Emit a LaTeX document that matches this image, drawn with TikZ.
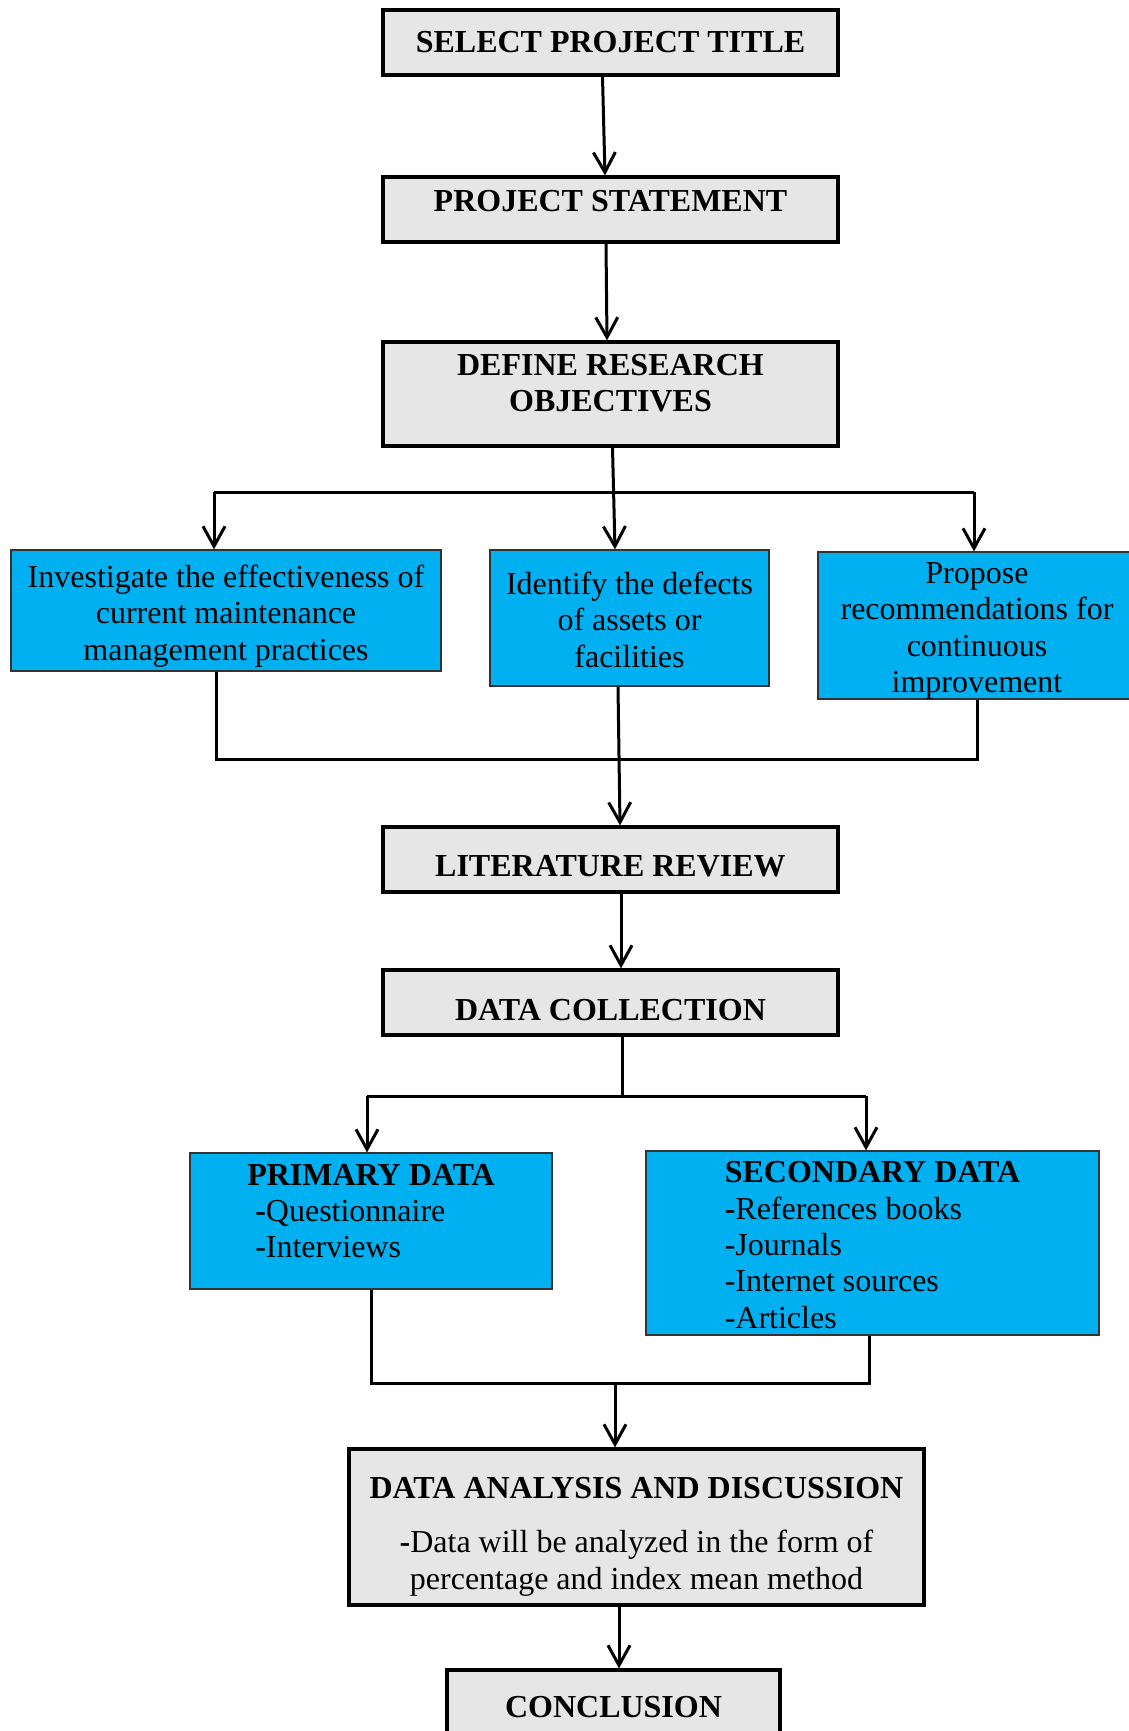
\documentclass[tikz,border=0pt]{standalone}
\usepackage{fontspec}
\setmainfont{Liberation Serif}
\usetikzlibrary{arrows.meta}
\definecolor{boxgray}{HTML}{E6E6E6}
\definecolor{boxblue}{HTML}{00B0F0}
\tikzset{
    graybox/.style={draw=black, line width=1.6pt, fill=boxgray, inner sep=0pt,
        align=center, font=\bfseries\fontsize{16}{18.2}\selectfont},
    bluebox/.style={draw=black!80, line width=0.6pt, fill=boxblue, inner sep=0pt,
        align=center, font=\fontsize{16}{18.2}\selectfont},
    txt/.style={inner sep=0pt, align=center, font=\fontsize{16}{18.2}\selectfont},
    bold/.style={txt, font=\bfseries\fontsize{16}{18.2}\selectfont},
    conn/.style={line width=1.5pt},
    arr/.style={conn, -{Straight Barb[length=10pt,width=11pt]}},
}
\begin{document}
\begin{tikzpicture}[x=0.5pt, y=-0.5pt]
    \useasboundingbox (0,0) rectangle (1129,1731);

    % Main steps
    \node[graybox, minimum width=227.5pt, minimum height=32.5pt] (title) at (610.5,42.5) {SELECT PROJECT TITLE};
    \node[graybox, minimum width=227.5pt, minimum height=32.5pt] (stmt) at (610.5,209.5) {};
    \node[bold] (stmttxt) at (610.5,201.5) {PROJECT STATEMENT};
    \node[graybox, minimum width=227.5pt, minimum height=52pt] (obj) at (610.5,394) {};
    \node[bold] (objtxt) at (610.5,383) {DEFINE RESEARCH\\OBJECTIVES};

    % Objectives
    \node[bluebox, minimum width=215pt, minimum height=60.5pt] (inv) at (226,610.5) {};
    \node[txt] (invtxt) at (226,616)
        {Investigate the effectiveness of\\current maintenance\\management practices};
    \node[bluebox, minimum width=139.5pt, minimum height=68pt] (ident) at (629.5,618) {};
    \node[txt] (identtxt) at (629.5,619.5)
        {Identify the defects\\of assets or\\facilities};
    \node[bluebox, minimum width=159pt, minimum height=73.5pt] (prop) at (977,625.5) {};
    \node[txt] (proptxt) at (977,631)
        {Propose\\recommendations for\\continuous\\improvement};

    \node[graybox, minimum width=227.5pt, minimum height=32.5pt] (lit) at (610.5,859.5) {};
    \node[bold] (littxt) at (610.5,866) {LITERATURE REVIEW};
    \node[graybox, minimum width=227.5pt, minimum height=32.5pt] (coll) at (610.5,1002.5) {};
    \node[bold] (colltxt) at (610.5,1010) {DATA COLLECTION};

    % Data sources
    \node[bluebox, minimum width=181pt, minimum height=68pt] (prim) at (371,1221) {};
    \node[txt, align=left] (primtxt) at (371,1211)
        {\textbf{PRIMARY DATA}\\\hspace*{4pt}\textbf{-}Questionnaire\\\hspace*{4pt}-Interviews};
    \node[bluebox, minimum width=226.5pt, minimum height=92pt] (sec) at (872.5,1243) {};
    \node[txt, align=left] (sectxt) at (872.5,1245)
        {\textbf{SECONDARY DATA}\\\textbf{-}References books\\-Journals\\-Internet sources\\-Articles};

    \node[graybox, minimum width=287.5pt, minimum height=78pt] (anal) at (636.5,1527) {};
    \node[txt] (analtxt) at (636.5,1537)
        {\textbf{DATA ANALYSIS AND DISCUSSION}\\[8.8pt]\textbf{-}Data will be analyzed in the form of\\percentage and index mean method};
    \node[graybox, minimum width=166.5pt, minimum height=37.5pt] (concl) at (613.5,1707.5) {CONCLUSION};

    % Junction points
    \coordinate (brL) at (214,492);
    \coordinate (brR) at (974,492);
    \coordinate (mgL) at (216,759);
    \coordinate (mgR) at (977,759);
    \coordinate (sp) at (622,1096);
    \coordinate (bL) at (367,1096);
    \coordinate (bR) at (866,1096);
    \coordinate (mL) at (371,1383);
    \coordinate (mR) at (869,1383);
    \coordinate (mM) at (615,1383);

    % Connectors
    \draw[arr] ([xshift=-4pt]title.south) -- ([xshift=-2.75pt]stmt.north);
    \draw[arr] ([xshift=-2.25pt]stmt.south) -- ([xshift=-1.75pt]obj.north);
    \draw[arr] ([xshift=1pt]obj.south) -- ([xshift=-7.25pt]ident.north);
    \draw[conn] (brL) -- (brR);
    \draw[arr] (brL) -- (brL |- inv.north);
    \draw[arr] (brR) -- (brR |- prop.north);

    \draw[conn] (inv.south -| mgL) -- (mgL) -- (mgR) -- (prop.south -| mgR);
    \draw[arr] ([xshift=-5.75pt]ident.south) -- ([xshift=4.75pt]lit.north);
    \draw[arr] ([xshift=5.25pt]lit.south) -- ([xshift=5.25pt]coll.north);

    \draw[conn] (coll.south -| sp) -- (sp);
    \draw[conn] (bL) -- (bR);
    \draw[arr] (bL) -- (bL |- prim.north);
    \draw[arr] (bR) -- (bR |- sec.north);

    \draw[conn] (prim.south -| mL) -- (mL) -- (mR) -- (sec.south -| mR);
    \draw[arr] (mM) -- (anal.north -| mM);
    \draw[arr] ([xshift=-8.75pt]anal.south) -- ([xshift=2.75pt]concl.north);

\end{tikzpicture}
\end{document}
